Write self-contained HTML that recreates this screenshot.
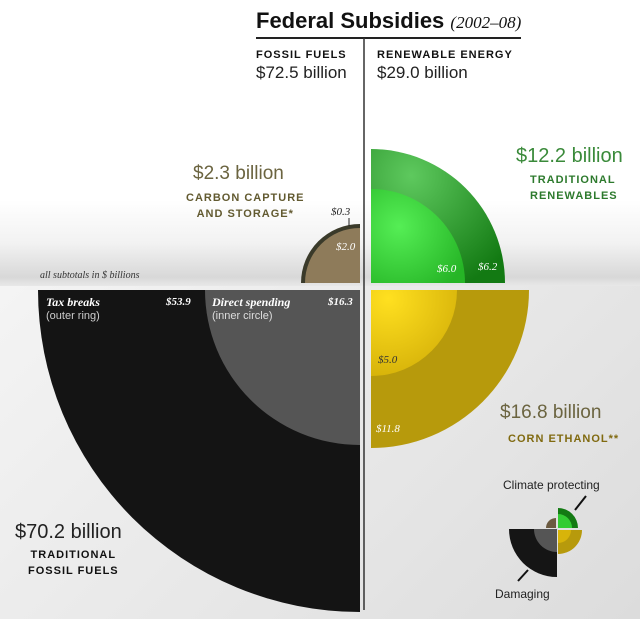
<!DOCTYPE html>
<html><head><style>
body{margin:0;width:640px;height:619px;overflow:hidden;background:#fff;font-family:"Liberation Sans",sans-serif;position:relative}
.t{position:absolute;white-space:nowrap}
.cap{font-weight:bold;letter-spacing:1px;font-size:11px;line-height:16px}
.ser{font-family:"Liberation Serif",serif;font-style:italic}
</style></head><body>
<div style="position:absolute;left:0;top:200px;width:640px;height:86px;background:linear-gradient(#fff 0%,#f2f2f2 50%,#d8d8d8 90%,#e8e8e8 100%)"></div>
<div style="position:absolute;left:0;top:286px;width:640px;height:333px;background:linear-gradient(135deg,#f4f4f4,#e6e6e6 60%,#dcdcdc)"></div>
<svg width="640" height="619" style="position:absolute;left:0;top:0">
<defs>
<radialGradient id="g1" cx="0.3" cy="0.2" r="0.9"><stop offset="0" stop-color="#5ec95e"/><stop offset="1" stop-color="#137a13"/></radialGradient>
<radialGradient id="g2" cx="0.3" cy="0.4" r="0.8"><stop offset="0" stop-color="#55ee55"/><stop offset="1" stop-color="#26b526"/></radialGradient>
<radialGradient id="y2" cx="0.2" cy="0.1" r="0.9"><stop offset="0" stop-color="#ffe020"/><stop offset="1" stop-color="#d8b40a"/></radialGradient>
</defs>
<line x1="256" y1="38" x2="521" y2="38" stroke="#222" stroke-width="2"/>
<line x1="364" y1="38" x2="364" y2="610" stroke="#333" stroke-width="1.5"/>
<path d="M371 283 L371 149 A134 134 0 0 1 505 283 Z" fill="url(#g1)"/>
<path d="M371 283 L371 189 A94 94 0 0 1 465 283 Z" fill="url(#g2)"/>
<path d="M371 290 L529 290 A158 158 0 0 1 371 448 Z" fill="#b79a0c"/>
<path d="M371 290 L457 290 A86 86 0 0 1 371 376 Z" fill="url(#y2)"/>
<path d="M360 283 L360 224 A59 59 0 0 0 301 283 Z" fill="#3a3a2a"/>
<path d="M360 283 L360 228 A55 55 0 0 0 305 283 Z" fill="#8e7b5a"/>
<path d="M360 290 L38 290 A322 322 0 0 0 360 612 Z" fill="#141414"/>
<path d="M360 290 L205 290 A155 155 0 0 0 360 445 Z" fill="#555"/>
<line x1="349" y1="218" x2="349" y2="226" stroke="#222"/>
<g transform="translate(557,529)">
<path d="M0 0 L-48 0 A48 48 0 0 0 0 48Z" fill="#151515"/><path d="M0 0 L-23 0 A23 23 0 0 0 0 23Z" fill="#555"/>
<path d="M1 -1 L1 -21 A20 20 0 0 1 21 -1Z" fill="#137a13"/><path d="M1 -1 L1 -15 A14 14 0 0 1 15 -1Z" fill="#3c3"/>
<path d="M1 1 L25 1 A24 24 0 0 1 1 25Z" fill="#b79a0c"/><path d="M1 1 L14 1 A13 13 0 0 1 1 14Z" fill="#d8b40a"/>
<path d="M-1 -1 L-1 -11 A10 10 0 0 0 -11 -1Z" fill="#6b5a40"/>
<line x1="18" y1="-19" x2="29" y2="-33" stroke="#111" stroke-width="2"/>
<line x1="-29" y1="41" x2="-39" y2="52" stroke="#111" stroke-width="2"/>
</g>
</svg>
<div class="t" style="left:256px;top:8px;font-size:22px;font-weight:bold;color:#111">Federal Subsidies <span class="ser" style="font-weight:normal;font-size:17px">(2002–08)</span></div>
<div class="t cap" style="left:256px;top:47px;color:#111">FOSSIL FUELS</div>
<div class="t" style="left:256px;top:63px;font-size:17px;color:#222">$72.5 billion</div>
<div class="t cap" style="left:377px;top:47px;color:#111">RENEWABLE ENERGY</div>
<div class="t" style="left:377px;top:63px;font-size:17px;color:#222">$29.0 billion</div>
<div class="t" style="left:516px;top:145px;font-size:20px;color:#3a8a3a">$12.2 billion</div>
<div class="t cap" style="left:530px;top:172px;color:#2d7a2d">TRADITIONAL<br>RENEWABLES</div>
<div class="t" style="left:193px;top:163px;font-size:19px;color:#6b6440">$2.3 billion</div>
<div class="t cap" style="left:186px;top:190px;color:#625a30;text-align:center">CARBON CAPTURE<br>AND STORAGE*</div>
<div class="t ser" style="left:331px;top:206px;font-size:11px;color:#222">$0.3</div>
<div class="t ser" style="left:336px;top:241px;font-size:11px;color:#fff">$2.0</div>
<div class="t ser" style="left:437px;top:263px;font-size:11px;color:#fff">$6.0</div>
<div class="t ser" style="left:478px;top:261px;font-size:11px;color:#fff">$6.2</div>
<div class="t ser" style="left:40px;top:270px;font-size:10px;color:#333">all subtotals in $ billions</div>
<div class="t" style="left:46px;top:296px;font-size:12px;color:#fff;line-height:13px"><b class="ser">Tax breaks</b><br><span style="font-size:11px;color:#ccc">(outer ring)</span></div>
<div class="t ser" style="left:166px;top:296px;font-size:11px;color:#fff;font-weight:bold">$53.9</div>
<div class="t" style="left:212px;top:296px;font-size:12px;color:#fff;line-height:13px"><b class="ser">Direct spending</b><br><span style="font-size:11px;color:#ddd">(inner circle)</span></div>
<div class="t ser" style="left:328px;top:296px;font-size:11px;color:#fff;font-weight:bold">$16.3</div>
<div class="t ser" style="left:378px;top:354px;font-size:11px;color:#333">$5.0</div>
<div class="t ser" style="left:376px;top:423px;font-size:11px;color:#fff">$11.8</div>
<div class="t" style="left:500px;top:402px;font-size:19px;color:#6b6440">$16.8 billion</div>
<div class="t cap" style="left:508px;top:431px;color:#806a10">CORN ETHANOL**</div>
<div class="t" style="left:503px;top:478px;font-size:12px;color:#222">Climate protecting</div>
<div class="t" style="left:495px;top:587px;font-size:12px;color:#222">Damaging</div>
<div class="t" style="left:15px;top:521px;font-size:20px;color:#222">$70.2 billion</div>
<div class="t cap" style="left:28px;top:547px;color:#111;text-align:center">TRADITIONAL<br>FOSSIL FUELS</div>
</body></html>
